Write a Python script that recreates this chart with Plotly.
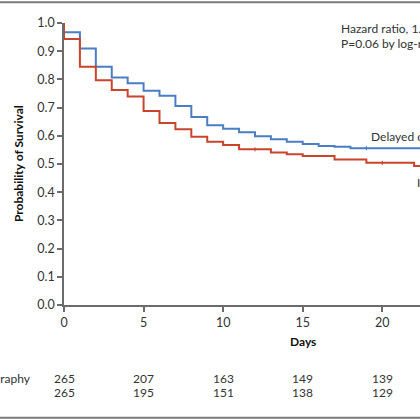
import plotly.graph_objects as go

# Kaplan-Meier steps (days, probability of survival)
delayed_days = [0, 0, 1, 2, 3, 4, 5, 6, 7, 8, 9, 10, 11, 12, 13, 14, 15, 16, 17, 18, 22.4]
delayed_surv = [1.0, 0.967, 0.91, 0.845, 0.807, 0.786, 0.76, 0.742, 0.706, 0.667, 0.637,
                0.625, 0.613, 0.598, 0.588, 0.579, 0.571, 0.564, 0.561, 0.556, 0.556]

immediate_days = [0, 0, 1, 2, 3, 4, 5, 6, 7, 8, 9, 10, 11, 13, 14, 15, 17, 19, 22, 22.4]
immediate_surv = [1.0, 0.943, 0.845, 0.797, 0.762, 0.739, 0.688, 0.645, 0.623, 0.597, 0.579,
                  0.567, 0.552, 0.541, 0.535, 0.528, 0.516, 0.504, 0.493, 0.493]

# censor ticks
delayed_cens_days = [19]
delayed_cens_surv = [0.556]
immediate_cens_days = [12, 20]
immediate_cens_surv = [0.552, 0.504]

# number at risk
risk_days = [0, 5, 10, 15, 20]
risk_delayed = [265, 207, 163, 149, 139]
risk_immediate = [265, 195, 151, 138, 129]

blue = "#4a7dc4"
red = "#c8452c"
txt = "#333333"
axis_col = "#6b6b6b"
font_name = "Lato"

fig = go.Figure()
fig.add_trace(go.Scatter(x=delayed_days, y=delayed_surv, mode="lines", line_shape="hv",
                         line=dict(color=blue, width=2), showlegend=False))
fig.add_trace(go.Scatter(x=immediate_days, y=immediate_surv, mode="lines", line_shape="hv",
                         line=dict(color=red, width=2), showlegend=False))
fig.add_trace(go.Scatter(x=delayed_cens_days, y=delayed_cens_surv, mode="markers",
                         marker=dict(symbol="line-ns", size=3, line=dict(color=blue, width=1)),
                         showlegend=False))
fig.add_trace(go.Scatter(x=immediate_cens_days, y=immediate_cens_surv, mode="markers",
                         marker=dict(symbol="line-ns", size=3, line=dict(color=red, width=1)),
                         showlegend=False))


def note(text, x, y, xref="x", yref="y", xanchor="center", size=12, color=txt, **kw):
    return dict(text=text, xref=xref, yref=yref, x=x, y=y, xanchor=xanchor,
                yanchor="middle", showarrow=False, font=dict(size=size, color=color), **kw)


annots = []
# axis titles
annots.append(note("<b>Probability of Survival</b>", -0.129, 0.5, "paper", "paper",
                   color="#111", textangle=-90))
annots.append(note("<b>Days</b>", 15, -0.128, "x", "paper", color="#111"))
# hazard text
annots.append(note("Hazard ratio, 1.28 (95% CI, 1.00–1.63)", 17.26, 0.979, xanchor="left"))
annots.append(note("P=0.06 by log-rank test", 17.26, 0.929, xanchor="left"))
# curve labels
annots.append(note("Delayed or selective angiography", 19.15, 0.596, xanchor="left"))
annots.append(note("Immediate angiography", 22.04, 0.433, xanchor="left"))
# number at risk rows
annots.append(note("Delayed or selective angiography", -0.087, -0.262, "paper", "paper",
                   xanchor="right"))
for d, n in zip(risk_days, risk_delayed):
    annots.append(note(str(n), d, -0.262, "x", "paper"))
for d, n in zip(risk_days, risk_immediate):
    annots.append(note(str(n), d, -0.312, "x", "paper"))

fig.update_layout(
    width=420, height=420,
    margin=dict(l=64, r=0, t=23, b=115),
    paper_bgcolor="white", plot_bgcolor="white",
    font=dict(family=font_name, size=12, color=txt),
    annotations=annots,
    shapes=[
        dict(type="line", xref="paper", yref="paper", x0=-0.2, x1=1.0, y0=1.074, y1=1.074,
             line=dict(color="#7a7a7a", width=2)),
        dict(type="line", xref="paper", yref="paper", x0=-0.2, x1=1.0, y0=-0.40, y1=-0.40,
             line=dict(color="#7a7a7a", width=2)),
    ],
)
fig.update_xaxes(range=[0, 22.37], tickvals=[0, 5, 10, 15, 20], ticks="outside", ticklen=5,
                 tickcolor=axis_col, tickwidth=1.5, showline=True, linecolor=axis_col,
                 linewidth=1.5, showgrid=False, zeroline=False,
                 tickfont=dict(size=12.5, color=txt))
fig.update_yaxes(range=[0, 1.0], dtick=0.1, tickformat=".1f", ticks="outside", ticklen=5,
                 tickcolor=axis_col, tickwidth=1.5, showline=True, linecolor=axis_col,
                 linewidth=1.5, showgrid=False, zeroline=False,
                 tickfont=dict(size=12.5, color=txt))

# page body has a default margin; drop it so the figure sits at the window corner
fig.write_html("out.html", config={"displayModeBar": False},
               post_script="document.body.style.margin='0';")
